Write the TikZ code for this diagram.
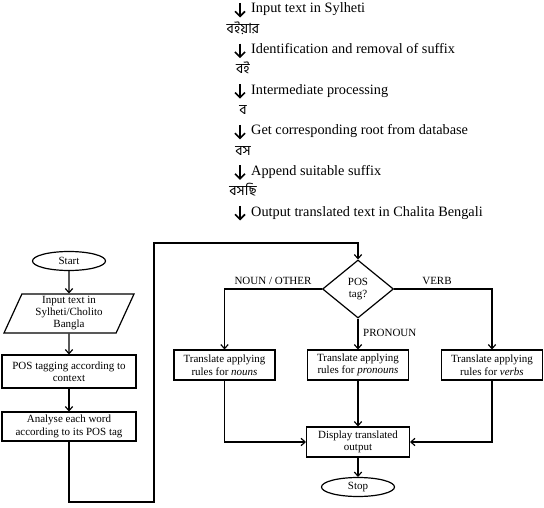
\documentclass[tikz,border=0pt]{standalone}
\usepackage{fontspec}
\setmainfont{Liberation Serif}
\newfontfamily\bengfont[Script=Bengali]{Hind Siliguri}
\usetikzlibrary{positioning,shapes.geometric,arrows.meta}

\tikzset{
  flow/.style={draw, line width=1.2pt, font=\fontsize{11}{12.5}\selectfont, align=center, inner sep=2pt},
  procbox/.style={flow, rectangle, minimum width=101pt, minimum height=30pt},
  widebox/.style={procbox, minimum width=134pt},
  term/.style={flow, ellipse, minimum width=73pt, minimum height=19pt, inner sep=0pt},
  iobox/.style={flow, trapezium, trapezium left angle=62, trapezium right angle=118,
    trapezium stretches body, minimum width=130pt, minimum height=39pt, inner sep=0pt,
    font=\fontsize{11}{12}\selectfont},
  decide/.style={flow, diamond, minimum width=71pt, minimum height=58pt, inner sep=0pt},
  link/.style={line width=1.2pt, -{Straight Barb[length=4pt,width=7.5pt]}},
  branch/.style={font=\fontsize{11}{12.5}\selectfont, inner sep=0pt},
  steptext/.style={font=\fontsize{14.3}{16}\selectfont, anchor=base west, inner sep=0pt},
  word/.style={font=\bengfont\fontsize{14}{16}\selectfont, anchor=base, inner sep=0pt},
  steparrow/.style={line width=1.6pt, -{Straight Barb[length=5pt,width=10pt]}}
}

\begin{document}
\begin{tikzpicture}[x=1pt,y=-1pt]
    \useasboundingbox (0,0) rectangle (544,508);

    % word transformation example
    \node[steptext] (s1) at (251,13) {Input text in Sylheti};
    \node[word] (w1) at (243,33.3) {বইয়ার};
    \node[steptext] (s2) at (251,53.6) {Identification and removal of suffix};
    \node[word] (w2) at (243,73.9) {বই};
    \node[steptext] (s3) at (251,94.2) {Intermediate processing};
    \node[word] (w3) at (243,114.5) {ব};
    \node[steptext] (s4) at (251,134.8) {Get corresponding root from database};
    \node[word] (w4) at (243,155.1) {বস};
    \node[steptext] (s5) at (251,175.4) {Append suitable suffix};
    \node[word] (w5) at (243,195.7) {বসছি};
    \node[steptext] (s6) at (251,216) {Output translated text in Chalita Bengali};

    \draw[steparrow] ([shift={(-11,-10)}]s1.base west) -- ([shift={(-11,4.5)}]s1.base west);
    \draw[steparrow] ([shift={(-11,-10)}]s2.base west) -- ([shift={(-11,4.5)}]s2.base west);
    \draw[steparrow] ([shift={(-11,-10)}]s3.base west) -- ([shift={(-11,4.5)}]s3.base west);
    \draw[steparrow] ([shift={(-11,-10)}]s4.base west) -- ([shift={(-11,4.5)}]s4.base west);
    \draw[steparrow] ([shift={(-11,-10)}]s5.base west) -- ([shift={(-11,4.5)}]s5.base west);
    \draw[steparrow] ([shift={(-11,-10)}]s6.base west) -- ([shift={(-11,4.5)}]s6.base west);

    % flowchart
    \node[term] (start) at (69,261) {Start};
    \node[iobox] (input) at (69,313.5) {Input text in\\Sylheti/Cholito\\Bangla};
    \node[widebox, minimum height=33pt] (tagging) at (69,371.5) {POS tagging according to\\context};
    \node[widebox, minimum height=29pt] (analyse) at (69,426.5) {Analyse each word\\according to its POS tag};

    \node[decide] (postag) at (358,289) {POS\\tag?};
    \node[procbox] (nouns) at (224.5,365) {Translate applying\\rules for \emph{nouns}};
    \node[procbox] (pronouns) at (358,365) {Translate applying\\rules for \emph{pronouns}};
    \node[procbox] (verbs) at (492,365) {Translate applying\\rules for \emph{verbs}};
    \node[procbox, minimum width=103pt] (display) at (358,442) {Display translated\\output};
    \node[term] (stop) at (358,487) {Stop};

    \node[branch] (lnoun) at (273,281) {NOUN / OTHER};
    \node[branch] (lverb) at (437,281) {VERB};
    \node[branch, anchor=west] (lpronoun) at (363,333) {PRONOUN};

    \coordinate (low) at (154,502);
    \coordinate (high) at (154,243);

    \draw[link] (start) -- (input);
    \draw[link] (input) -- (tagging);
    \draw[link] (tagging) -- (analyse);
    \draw[link] (analyse.south) |- (low) -- (high) -| (postag.north);
    \draw[link] (postag.west) -| (nouns.north);
    \draw[link] (postag.south) -- (pronouns.north);
    \draw[link] (postag.east) -| (verbs.north);
    \draw[link] (nouns.south) |- (display.west);
    \draw[link] (pronouns.south) -- (display.north);
    \draw[link] (verbs.south) |- (display.east);
    \draw[link] (display) -- (stop);
\end{tikzpicture}
\end{document}
